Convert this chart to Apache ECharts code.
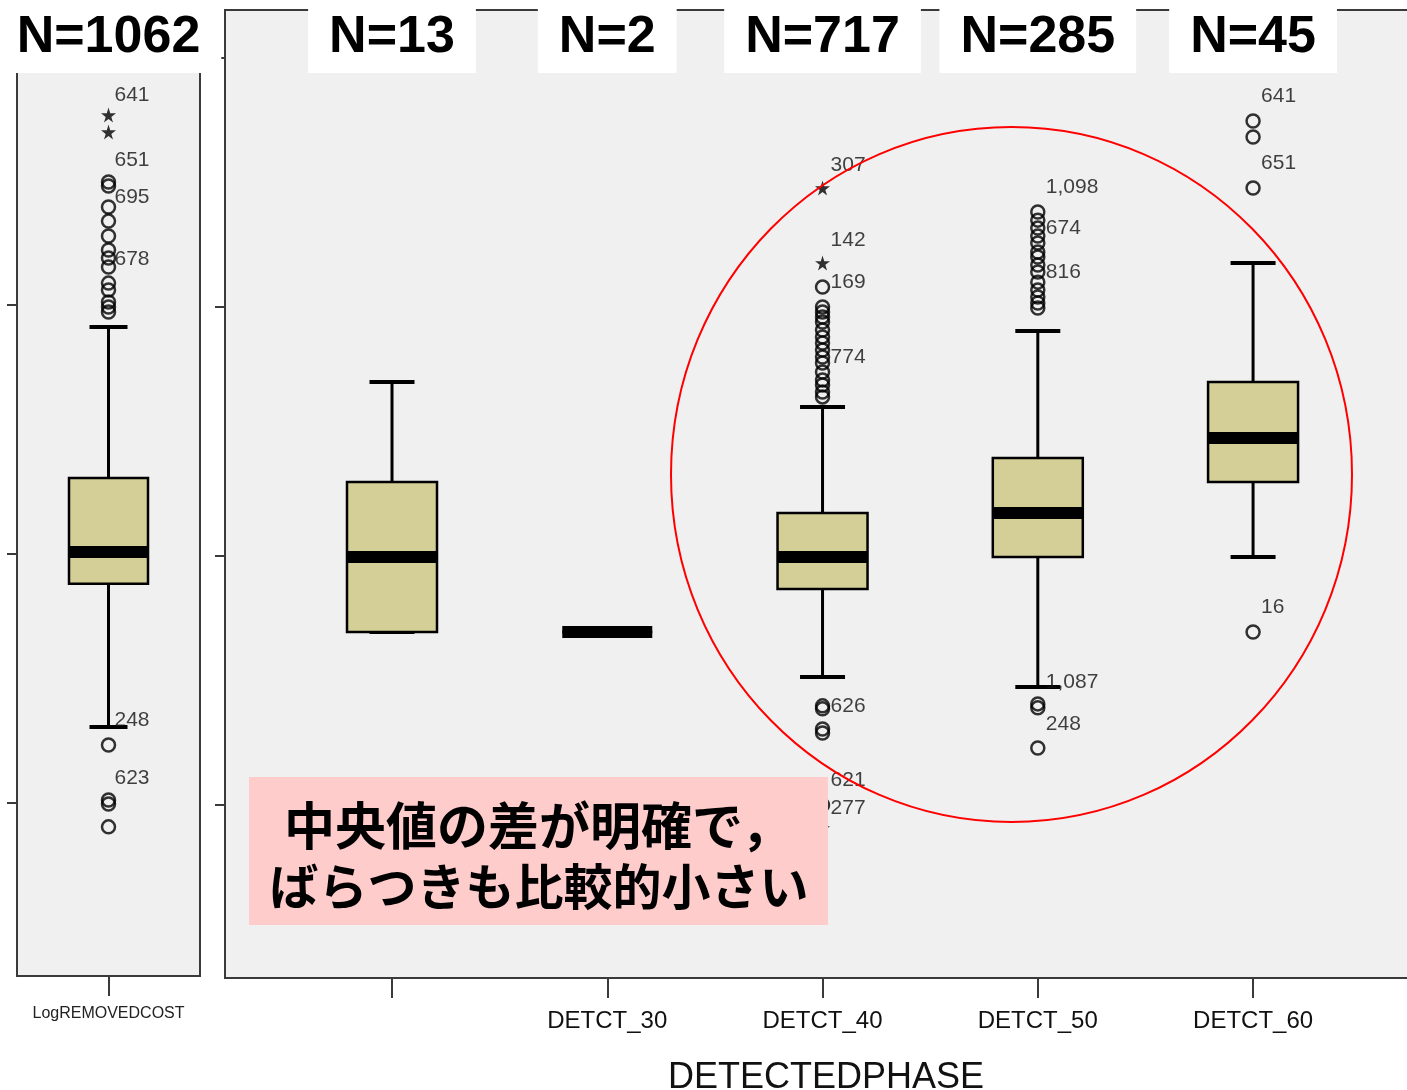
<!DOCTYPE html>
<html>
<head>
<meta charset="utf-8">
<script src="https://cdn.jsdelivr.net/npm/echarts@6/dist/echarts.min.js"></script>
<style>
html,body{margin:0;padding:0;background:#fff;}
#chart{width:1407px;height:1090px;}
</style>
</head>
<body>
<div id="chart"></div>
<script>
// ---------------- data ----------------
const categories = ['', 'DETCT_30', 'DETCT_40', 'DETCT_50', 'DETCT_60'];
const groupCounts = [13, 2, 717, 285, 45];
const overallName = 'LogREMOVEDCOST';
const overallCount = 1062;
const axisTitle = 'DETECTEDPHASE';

// box statistics per category: [low whisker, Q1, median, Q3, high whisker]
const boxLow    = [1.695, 1.695, 1.514, 1.474, 1.996];
const boxQ1     = [1.695, 1.695, 1.867, 1.996, 2.297];
const boxMedian = [1.996, 1.695, 1.996, 2.173, 2.474];
const boxQ3     = [2.297, 1.695, 2.173, 2.394, 2.699];
const boxHigh   = [2.699, 1.695, 2.598, 2.904, 3.177];

// overall (left panel)
const overallBox = [1.305, 1.880, 2.008, 2.305, 2.912];
const overallOutliers = [3.494, 3.478, 3.394, 3.337, 3.277, 3.221, 3.189, 3.153, 3.088, 3.060, 3.012, 2.992, 2.972, 1.233, 1.012, 0.996, 0.904];
const overallExtremes = [3.763, 3.695];
const overallCaseLabels = [[3.843, '641'], [3.582, '651'], [3.434, '695'], [3.185, '678'], [1.333, '248'], [1.100, '623']];

// outliers (circles) per category
const groupOutliers = [
  [],
  [],
  [3.080, 3.000, 2.980, 2.960, 2.940, 2.908, 2.880, 2.855, 2.827, 2.799, 2.775, 2.739, 2.707, 2.687, 2.659, 2.639, 1.398, 1.386, 1.305, 1.289, 1.000],
  [3.382, 3.349, 3.317, 3.285, 3.257, 3.221, 3.201, 3.169, 3.141, 3.100, 3.068, 3.040, 3.016, 2.996, 1.406, 1.390, 1.229],
  [3.747, 3.683, 3.478, 1.695]
];
// extremes (stars) per category
const groupExtremes = [[], [], [3.478, 3.177, 0.908], [], []];
// case labels per category: [value, case id]
const groupCaseLabels = [
  [],
  [],
  [[3.570, '307'], [3.269, '142'], [3.100, '169'], [2.799, '774'], [1.398, '626'], [1.100, '621'], [0.988, '277']],
  [[3.482, '1,098'], [3.317, '674'], [3.141, '816'], [1.494, '1,087'], [1.325, '248']],
  [[3.847, '641'], [3.578, '651'], [1.795, '16']]
];

const yTicks = [1, 2, 3, 4];
const noteLines = ['中央値の差が明確で，', 'ばらつきも比較的小さい'];

// ---------------- styling constants ----------------
const BOX_FILL = '#d4cf97';
const PANEL_BG = '#f0f0f0';
const BORDER = '#3a3a3a';
const LATIN = '"Liberation Sans", Arial, sans-serif';
const STAR = 'path://M50,0 L61,35 L98,35 L68,57 L79,91 L50,70 L21,91 L32,57 L2,35 L39,35 Z';
const Y_MIN = 0.305, Y_MAX = 4.193;
const X_MIN = 0.2242, X_MAX = 5.808;

function boxRenderer(boxW, capW) {
  return function (params, api) {
    const x = api.value(0);
    const low = api.coord([x, api.value(1)]);
    const q1 = api.coord([x, api.value(2)]);
    const med = api.coord([x, api.value(3)]);
    const q3 = api.coord([x, api.value(4)]);
    const high = api.coord([x, api.value(5)]);
    const cx = low[0];
    const blk = '#000';
    const children = [];
    children.push({type: 'line', shape: {x1: cx, y1: high[1], x2: cx, y2: q3[1]}, style: {stroke: blk, lineWidth: 3}});
    children.push({type: 'line', shape: {x1: cx, y1: q1[1], x2: cx, y2: low[1]}, style: {stroke: blk, lineWidth: 3}});
    children.push({type: 'line', shape: {x1: cx - capW / 2, y1: high[1], x2: cx + capW / 2, y2: high[1]}, style: {stroke: blk, lineWidth: 4}});
    children.push({type: 'line', shape: {x1: cx - capW / 2, y1: low[1], x2: cx + capW / 2, y2: low[1]}, style: {stroke: blk, lineWidth: 4}});
    children.push({type: 'rect', shape: {x: cx - boxW / 2, y: q3[1], width: boxW, height: q1[1] - q3[1]}, style: {fill: BOX_FILL, stroke: blk, lineWidth: 2.5}});
    children.push({type: 'rect', shape: {x: cx - boxW / 2, y: med[1] - 6, width: boxW, height: 12}, style: {fill: blk}});
    return {type: 'group', children: children};
  };
}

const rightBoxData = categories.map((c, i) => [i + 1, boxLow[i], boxQ1[i], boxMedian[i], boxQ3[i], boxHigh[i]]);
const leftBoxData = [[1].concat(overallBox)];

const rightOutlierData = [];
groupOutliers.forEach((arr, i) => arr.forEach(v => rightOutlierData.push([i + 1, v])));
const rightExtremeData = [];
groupExtremes.forEach((arr, i) => arr.forEach(v => rightExtremeData.push([i + 1, v])));
const rightLabelData = [];
groupCaseLabels.forEach((arr, i) => arr.forEach(d => rightLabelData.push({value: [i + 1, d[0]], name: d[1]})));
const leftOutlierData = overallOutliers.map(v => [1, v]);
const leftExtremeData = overallExtremes.map(v => [1, v]);
const leftLabelData = overallCaseLabels.map(d => ({value: [1, d[0]], name: d[1]}));

const axisLineStyle = {color: BORDER, width: 2};

function yAxisDef(gi) {
  return {
    gridIndex: gi, type: 'value', min: Y_MIN, max: Y_MAX,
    axisLine: {show: true, lineStyle: axisLineStyle},
    axisTick: {show: true, customValues: yTicks, length: 10, lineStyle: {color: BORDER, width: 2}},
    axisLabel: {show: false},
    splitLine: {show: false}
  };
}

const outlierStyle = {color: 'rgba(0,0,0,0)', borderColor: '#000', borderWidth: 2.5};
const labelStyle = (dist) => ({show: true, position: 'right', distance: dist, formatter: '{b}', fontFamily: LATIN, fontSize: 21, color: '#111'});

const option = {
  animation: false,
  backgroundColor: '#fff',
  grid: [
    {left: 17, top: 8, width: 183, height: 968, outerBoundsMode: 'none', containLabel: false, show: true, backgroundColor: PANEL_BG, borderColor: BORDER, borderWidth: 2},
    {left: 225, top: 10, width: 1202, height: 968, outerBoundsMode: 'none', containLabel: false, show: true, backgroundColor: PANEL_BG, borderColor: BORDER, borderWidth: 2}
  ],
  xAxis: [
    {
      gridIndex: 0, type: 'value', min: 0, max: 2,
      axisLine: {show: true, onZero: false, lineStyle: axisLineStyle},
      axisTick: {show: true, customValues: [1], length: 20, lineStyle: {color: BORDER, width: 2}},
      axisLabel: {show: true, customValues: [1], formatter: () => overallName, margin: 30, fontFamily: LATIN, fontSize: 16, color: '#222'},
      splitLine: {show: false}
    },
    {
      gridIndex: 1, type: 'value', min: X_MIN, max: X_MAX,
      axisLine: {show: true, onZero: false, lineStyle: axisLineStyle},
      axisTick: {show: true, customValues: [1, 2, 3, 4, 5], length: 20, lineStyle: {color: BORDER, width: 2}},
      axisLabel: {show: true, customValues: [1, 2, 3, 4, 5], formatter: v => categories[Math.round(v) - 1], margin: 31, fontFamily: LATIN, fontSize: 24, color: '#111'},
      splitLine: {show: false},
      name: axisTitle, nameLocation: 'middle', nameGap: 82,
      nameTextStyle: {fontFamily: LATIN, fontSize: 36, color: '#111'}
    }
  ],
  yAxis: [yAxisDef(0), yAxisDef(1)],
  series: [
    {type: 'custom', xAxisIndex: 0, yAxisIndex: 0, renderItem: boxRenderer(79, 38), encode: {x: 0, y: [1, 2, 3, 4, 5]}, data: leftBoxData, z: 2},
    {type: 'custom', xAxisIndex: 1, yAxisIndex: 1, renderItem: boxRenderer(90, 45), encode: {x: 0, y: [1, 2, 3, 4, 5]}, data: rightBoxData, z: 2},
    {type: 'scatter', xAxisIndex: 0, yAxisIndex: 0, symbol: 'circle', symbolSize: 13, itemStyle: outlierStyle, data: leftOutlierData, z: 3},
    {type: 'scatter', xAxisIndex: 1, yAxisIndex: 1, symbol: 'circle', symbolSize: 13, itemStyle: outlierStyle, data: rightOutlierData, z: 3},
    {type: 'scatter', xAxisIndex: 0, yAxisIndex: 0, symbol: STAR, symbolSize: 15, itemStyle: {color: '#000'}, data: leftExtremeData, z: 3},
    {type: 'scatter', xAxisIndex: 1, yAxisIndex: 1, symbol: STAR, symbolSize: 15, itemStyle: {color: '#000'}, data: rightExtremeData, z: 3},
    {type: 'scatter', xAxisIndex: 0, yAxisIndex: 0, symbolSize: 0, label: labelStyle(6), data: leftLabelData, z: 4},
    {type: 'scatter', xAxisIndex: 1, yAxisIndex: 1, symbolSize: 0, label: labelStyle(8), data: rightLabelData, z: 4}
  ]
};

const chart = echarts.init(document.getElementById('chart'), null, {renderer: 'canvas'});
chart.setOption(option);

// ---------- annotations (N counts, note box, highlight ellipse) ----------
const nFont = 'bold 52px ' + LATIN;
const graphics = [];
const leftCx = chart.convertToPixel({xAxisIndex: 0, yAxisIndex: 0}, [1, 2])[0];
const countLabels = [{x: leftCx, text: 'N=' + overallCount}];
groupCounts.forEach((n, i) => {
  const px = chart.convertToPixel({xAxisIndex: 1, yAxisIndex: 1}, [i + 1, 2])[0];
  countLabels.push({x: px, text: 'N=' + n});
});
countLabels.forEach(l => {
  graphics.push({
    type: 'text', x: l.x, y: 0, z: 100,
    style: {text: l.text, font: nFont, fill: '#000', align: 'center', verticalAlign: 'top',
      backgroundColor: '#fff', padding: [8, 21, 5, 21], lineHeight: 60}
  });
});
graphics.push({type: 'rect', z: 100, shape: {x: 249, y: 777, width: 579, height: 148}, style: {fill: '#ffcccc'}});
graphics.push({type: 'text', z: 101, x: 538, y: 826, style: {text: noteLines[0], font: 'bold 51px "Noto Sans CJK JP", sans-serif', fill: '#000', align: 'center', verticalAlign: 'middle'}});
graphics.push({type: 'text', z: 101, x: 539, y: 886, style: {text: noteLines[1], font: 'bold 49px "Noto Sans CJK JP", sans-serif', fill: '#000', align: 'center', verticalAlign: 'middle'}});
graphics.push({type: 'ellipse', z: 100, shape: {cx: 1011.5, cy: 474.5, rx: 340.5, ry: 347.5}, style: {fill: 'none', stroke: '#ff0000', lineWidth: 2}});
chart.setOption({graphic: graphics});
</script>
</body>
</html>
